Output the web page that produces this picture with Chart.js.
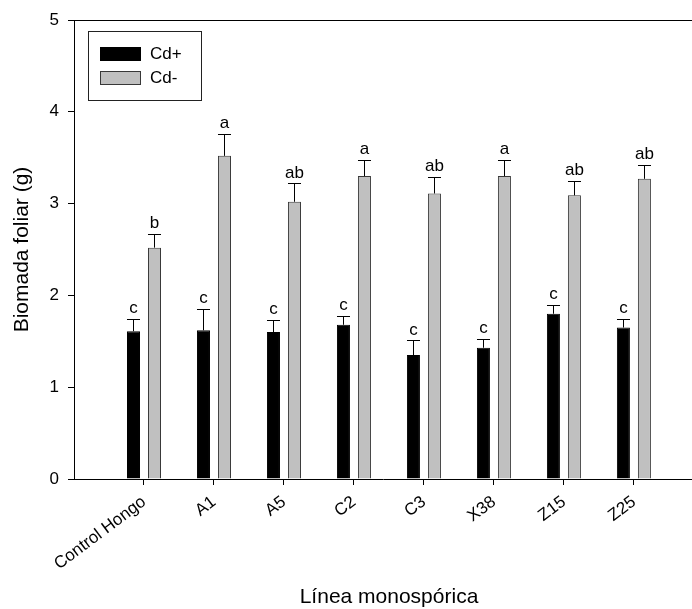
<!DOCTYPE html>
<html>
<head>
<meta charset="utf-8">
<script src="https://cdn.jsdelivr.net/npm/chart.js@4/dist/chart.umd.min.js"></script>
<style>
  html, body { margin: 0; padding: 0; background: #fff; }
  canvas { display: block; }
</style>
</head>
<body>
<canvas id="grafico" width="692" height="609"></canvas>
<script>
// lineas monosporicas y biomasa foliar (g), con y sin cadmio
var lineas = ["Control Hongo", "A1", "A5", "C2", "C3", "X38", "Z15", "Z25"];
var cdMas = [1.61, 1.62, 1.60, 1.68, 1.35, 1.43, 1.80, 1.65];
var cdMasErr = [0.13, 0.23, 0.13, 0.10, 0.16, 0.10, 0.10, 0.09];
var cdMenos = [2.52, 3.52, 3.02, 3.30, 3.11, 3.30, 3.09, 3.27];
var cdMenosErr = [0.15, 0.24, 0.20, 0.18, 0.18, 0.18, 0.16, 0.15];
var letrasMas = ["c", "c", "c", "c", "c", "c", "c", "c"];
var letrasMenos = ["b", "a", "ab", "a", "ab", "a", "ab", "ab"];
var yTicks = [0, 1, 2, 3, 4, 5];

var fuente = "'Liberation Sans', Arial, sans-serif";

function puntos(valores) {
  return valores.map(function(v, i) { return { x: i, y: v }; });
}

// barras de error (solo hacia arriba) y letras de significancia
var extras = {
  id: "extras",
  afterDatasetsDraw: function(chart) {
    var ctx = chart.ctx, y = chart.scales.y, area = chart.chartArea;
    var errores = [cdMasErr, cdMenosErr];
    var letras = [letrasMas, letrasMenos];

    ctx.save();
    ctx.strokeStyle = "#000";
    ctx.lineWidth = 1;
    ctx.fillStyle = "#000";
    ctx.font = "17px " + fuente;
    ctx.textAlign = "center";
    ctx.textBaseline = "bottom";

    chart.data.datasets.forEach(function(ds, d) {
      var meta = chart.getDatasetMeta(d);
      meta.data.forEach(function(bar, i) {
        var valor = ds.data[i].y;
        var tope = y.getPixelForValue(valor + errores[d][i]);
        var base = y.getPixelForValue(valor);
        var mitad = bar.width / 2;
        var x = Math.round(bar.x) + 0.5;
        ctx.beginPath();
        ctx.moveTo(x, base);
        ctx.lineTo(x, Math.round(tope) + 0.5);
        ctx.moveTo(x - mitad, Math.round(tope) + 0.5);
        ctx.lineTo(x + mitad, Math.round(tope) + 0.5);
        ctx.stroke();
        ctx.fillText(letras[d][i], bar.x, tope - 2);
      });
    });

    // linea superior del marco
    ctx.beginPath();
    ctx.moveTo(area.left, Math.round(area.top) + 0.5);
    ctx.lineTo(area.right, Math.round(area.top) + 0.5);
    ctx.stroke();

    // leyenda
    var lx = area.left + 14, ly = area.top + 11;
    ctx.strokeStyle = "#222";
    ctx.strokeRect(lx + 0.5, ly + 0.5, 113, 69);
    ctx.textAlign = "left";
    ctx.textBaseline = "middle";
    chart.data.datasets.forEach(function(ds, d) {
      var fy = ly + 16 + d * 24;
      ctx.fillStyle = ds.backgroundColor;
      ctx.fillRect(lx + 12, fy, 41, 14);
      ctx.strokeStyle = ds.borderColor;
      ctx.strokeRect(lx + 12.5, fy + 0.5, 40, 13);
      ctx.fillStyle = "#000";
      ctx.fillText(ds.label, lx + 62, fy + 7);
    });

    // titulos de los ejes
    ctx.font = "21px " + fuente;
    ctx.textAlign = "center";
    ctx.textBaseline = "middle";
    ctx.fillText("Línea monospórica", (area.left + area.right) / 2 + 6, chart.height - 12);
    ctx.translate(22, (area.top + area.bottom) / 2);
    ctx.rotate(-Math.PI / 2);
    ctx.fillText("Biomada foliar (g)", 0, 0);
    ctx.restore();
  }
};

var ctx = document.getElementById("grafico").getContext("2d");

new Chart(ctx, {
  type: "bar",
  data: {
    datasets: [
      {
        label: "Cd+",
        data: puntos(cdMas),
        backgroundColor: "#000000",
        borderColor: "#000000",
        borderWidth: 1
      },
      {
        label: "Cd-",
        data: puntos(cdMenos),
        backgroundColor: "#c0c0c0",
        borderColor: "#383838",
        borderWidth: 1
      }
    ]
  },
  options: {
    responsive: false,
    animation: false,
    categoryPercentage: 0.6,
    barPercentage: 0.62,
    layout: { padding: { top: 20, right: 0, left: 0, bottom: 0 } },
    plugins: {
      legend: { display: false },
      tooltip: { enabled: false }
    },
    scales: {
      x: {
        type: "linear",
        min: -1,
        max: 7.83,
        offset: false,
        afterBuildTicks: function(scale) {
          scale.ticks = lineas.map(function(_, i) { return { value: i }; });
        },
        afterFit: function(scale) { scale.height = 130; },
        ticks: {
          autoSkip: false,
          minRotation: 37,
          maxRotation: 37,
          padding: 7,
          color: "#000",
          font: { family: fuente, size: 17 },
          callback: function(value) { return lineas[value]; }
        },
        grid: {
          offset: false,
          drawOnChartArea: false,
          drawTicks: true,
          tickLength: 6,
          color: "#000"
        },
        border: { display: true, color: "#000", width: 1 }
      },
      y: {
        min: 0,
        max: 5,
        afterBuildTicks: function(scale) {
          scale.ticks = yTicks.map(function(v) { return { value: v }; });
        },
        afterFit: function(scale) { scale.width = 74; },
        ticks: {
          padding: 9,
          color: "#000",
          font: { family: fuente, size: 17 }
        },
        grid: {
          drawOnChartArea: false,
          drawTicks: true,
          tickLength: 6,
          color: "#000"
        },
        border: { display: true, color: "#000", width: 1 }
      }
    }
  },
  plugins: [extras]
});
</script>
</body>
</html>
